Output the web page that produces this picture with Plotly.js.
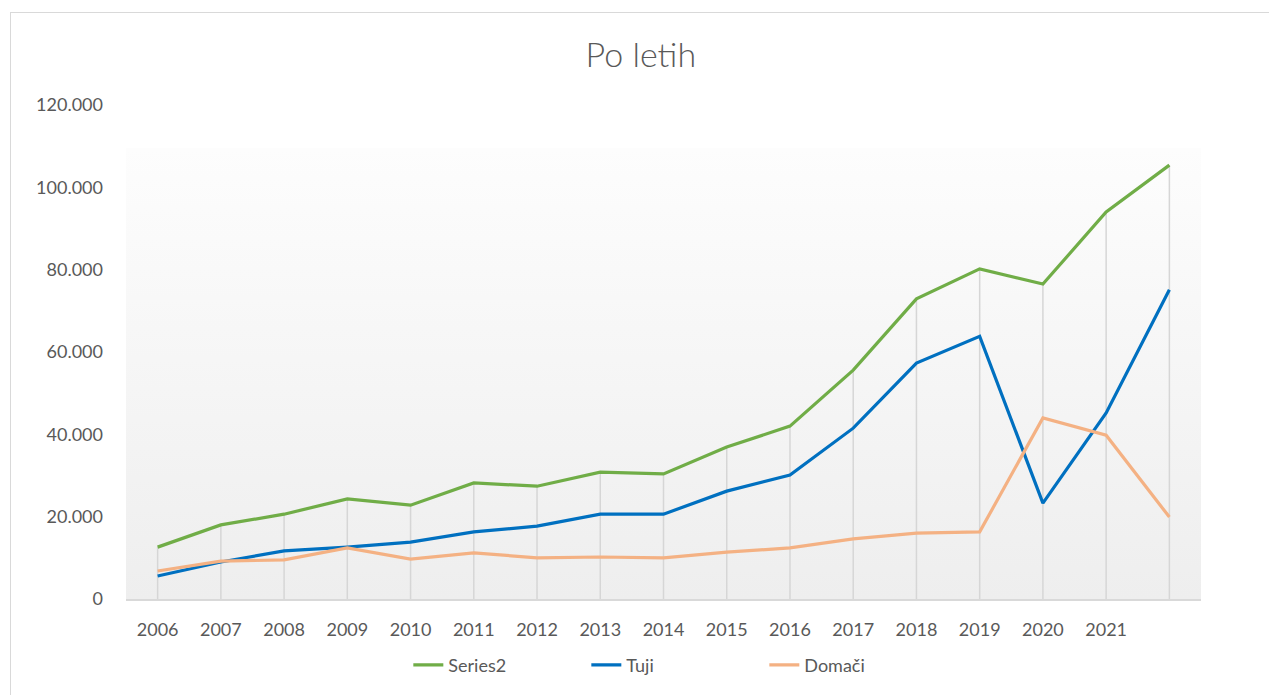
<!DOCTYPE html>
<html>
<head>
<meta charset="utf-8">
<script src="https://cdn.plot.ly/plotly-3.0.1.min.js"></script>
<style>
  html, body { margin: 0; padding: 0; background: #ffffff; }
  #frame { position: absolute; left: 10px; top: 12px; width: 1400px; height: 800px;
           border-left: 1px solid #d9d9d9; border-top: 1px solid #d9d9d9; box-sizing: border-box; }
  #chart { position: absolute; left: 0; top: 0; width: 1269px; height: 695px; }
</style>
</head>
<body>
<div id="frame"></div>
<div id="chart"></div>
<script>
// ---- data ----
const years = ['2006','2007','2008','2009','2010','2011','2012','2013','2014','2015','2016','2017','2018','2019','2020','2021','2022'];
const tickLabels = ['2006','2007','2008','2009','2010','2011','2012','2013','2014','2015','2016','2017','2018','2019','2020','2021',''];
const series2 = [12600, 18000, 20600, 24300, 22800, 28200, 27400, 30800, 30400, 36900, 42000, 55600, 72900, 80200, 76500, 94000, 105400];
const tuji    = [5600, 9000, 11700, 12600, 13800, 16300, 17700, 20600, 20600, 26200, 30100, 41500, 57300, 63800, 23300, 45200, 75100];
const domaci  = [6800, 9200, 9500, 12400, 9700, 11200, 10000, 10200, 10000, 11400, 12400, 14600, 16000, 16300, 44000, 39800, 19900];
const yTicks  = [0, 20000, 40000, 60000, 80000, 100000, 120000];

const FONT = 'Lato, "Open Sans", sans-serif';
const GREY = '#595959';

const gradSvg = '<svg xmlns="http://www.w3.org/2000/svg" width="100" height="100" preserveAspectRatio="none">' +
  '<defs><linearGradient id="g" x1="0" y1="0" x2="0" y2="1">' +
  '<stop offset="0" stop-color="#fdfdfd"/><stop offset="1" stop-color="#eeeeee"/></linearGradient></defs>' +
  '<rect width="100" height="100" fill="url(#g)"/></svg>';
const gradUri = 'data:image/svg+xml;charset=utf-8,' + encodeURIComponent(gradSvg);

const traces = [
  { // drop lines from the top series down to the axis
    x: years, y: series2, type: 'scatter', mode: 'markers',
    marker: { size: 1, opacity: 0 }, showlegend: false, hoverinfo: 'skip',
    error_y: { type: 'data', symmetric: false, array: series2.map(() => 0), arrayminus: series2,
               width: 0, thickness: 1.5, color: '#d6d6d6' }
  },
  { x: years, y: series2, name: 'Series2', type: 'scatter', mode: 'lines',
    line: { color: '#70AD47', width: 3.2 } },
  { x: years, y: tuji, name: 'Tuji', type: 'scatter', mode: 'lines',
    line: { color: '#0070C0', width: 3.2 } },
  { x: years, y: domaci, name: 'Domači', type: 'scatter', mode: 'lines',
    line: { color: '#F4B183', width: 3.2 } }
];

const layout = {
  width: 1269, height: 695,
  margin: { l: 126, r: 68, t: 105, b: 96, autoexpand: false },
  paper_bgcolor: 'rgba(0,0,0,0)',
  plot_bgcolor: 'rgba(0,0,0,0)',
  separators: ',.',
  font: { family: FONT, color: GREY, size: 18 },
  title: { text: 'Po letih', x: 0.505, xanchor: 'center', y: 1 - 55/695, yanchor: 'middle', yref: 'container',
           font: { family: FONT, size: 34, color: GREY, weight: 300 } },
  xaxis: {
    type: 'category', range: [-0.5, 16.5],
    tickmode: 'array', tickvals: years, ticktext: tickLabels, tickangle: 0,
    showgrid: false, zeroline: false,
    showline: true, linecolor: '#d9d9d9', linewidth: 1.5,
    ticks: '', ticklabelstandoff: 14, automargin: false,
    tickfont: { family: FONT, size: 18, color: GREY }
  },
  yaxis: {
    range: [0, 120000], tickmode: 'array', tickvals: yTicks,
    tickformat: ',d', showgrid: false, zeroline: false, showline: false,
    ticks: '', ticklabelstandoff: 22, automargin: false,
    tickfont: { family: FONT, size: 18, color: GREY }
  },
  legend: {
    orientation: 'h', x: 0.511, xanchor: 'center',
    y: -0.134, yanchor: 'middle',
    font: { family: FONT, size: 18, color: GREY },
    entrywidth: 133, entrywidthmode: 'pixels',
    bgcolor: 'rgba(0,0,0,0)'
  },
  images: [{
    source: gradUri, xref: 'paper', yref: 'paper',
    x: 0, y: (599 - 148) / 494, sizex: 1, sizey: (599 - 148) / 494,
    xanchor: 'left', yanchor: 'top', sizing: 'stretch', layer: 'below'
  }],
  showlegend: true
};

Plotly.newPlot('chart', traces, layout, { displayModeBar: false, staticPlot: true });
</script>
</body>
</html>
